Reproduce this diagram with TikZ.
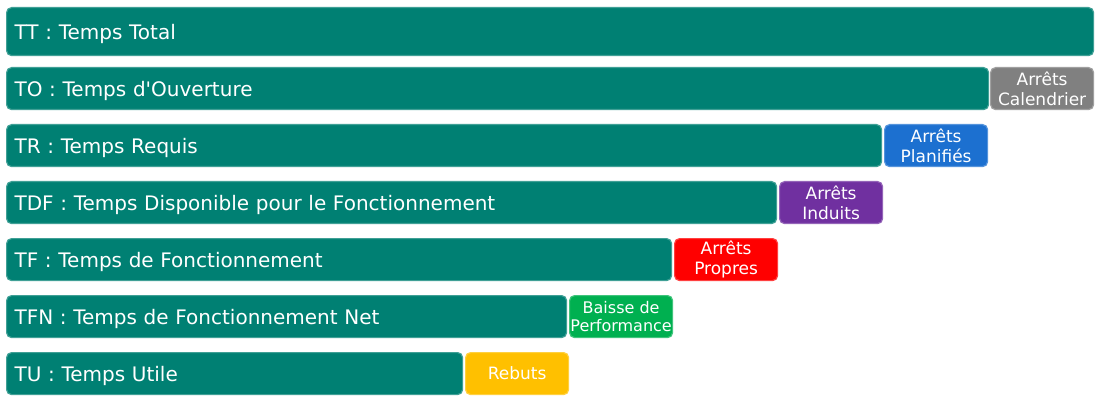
\documentclass[tikz,border=0pt]{standalone}
\usepackage{fontspec}
\newfontfamily\dvs{DejaVu Sans}
\definecolor{teal1}{RGB}{0,128,115}
\definecolor{grayc}{RGB}{128,128,128}
\definecolor{bluec}{RGB}{28,112,208}
\definecolor{purplec}{RGB}{112,48,160}
\definecolor{redc}{RGB}{255,0,0}
\definecolor{greenc}{RGB}{0,176,80}
\definecolor{yellowc}{RGB}{255,192,0}
\tikzset{
  bar/.style={anchor=north west, fill=teal1, draw=teal1!75!white, line width=1.2pt,
    rounded corners=5pt, text=white, inner xsep=8pt, inner ysep=0pt, align=left,
    text depth=0pt, font=\dvs\fontsize{20}{23}\selectfont},
  tag/.style={anchor=north west, draw=#1!75!white, fill=#1, line width=1.2pt,
    rounded corners=5pt, text=white, inner sep=0pt, align=center,
    minimum width=103pt, minimum height=42pt,
    font=\dvs\fontsize{17}{19.5}\selectfont},
}
\begin{document}
\begin{tikzpicture}[x=1pt,y=-1pt]
\useasboundingbox (0,0) rectangle (1100,406);
\node[bar, text width=1071pt, minimum height=48pt] (tt) at (6,7) {TT : Temps Total};
\node[bar, text width=966pt, minimum height=42pt] (to) at (6,67) {TO : Temps d'Ouverture};
\node[tag=grayc] (cal) at (990,67) {Arrêts\\Calendrier};
\node[bar, text width=859pt, minimum height=42pt] (tr) at (6,124) {TR : Temps Requis};
\node[tag=bluec] (pla) at (884,124) {Arrêts\\Planifiés};
\node[bar, text width=754pt, minimum height=42pt] (tdf) at (6,181) {TDF : Temps Disponible pour le Fonctionnement};
\node[tag=purplec] (ind) at (779,181) {Arrêts\\Induits};
\node[bar, text width=649pt, minimum height=42pt] (tf) at (6,238) {TF : Temps de Fonctionnement};
\node[tag=redc] (pro) at (674,238) {Arrêts\\Propres};
\node[bar, text width=544pt, minimum height=42pt] (tfn) at (6,295) {TFN : Temps de Fonctionnement Net};
\node[tag=greenc, font=\dvs\fontsize{16}{18.5}\selectfont] (perf) at (569,295) {Baisse de\\Performance};
\node[bar, text width=440pt, minimum height=42pt] (tu) at (6,352) {TU : Temps Utile};
\node[tag=yellowc] (reb) at (465,352) {Rebuts};
\end{tikzpicture}
\end{document}
